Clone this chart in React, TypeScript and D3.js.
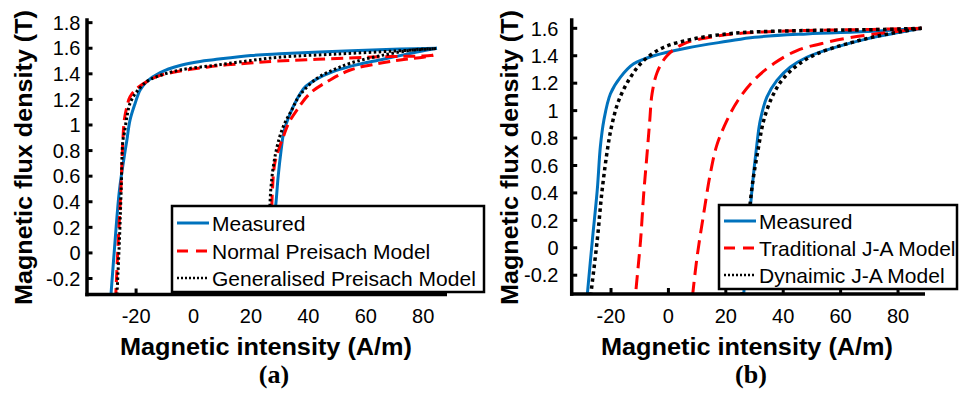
import React from "react";
import * as d3 from "d3";

type Pt = [number, number];

// ---------- Panel (a) data: [H (A/m), B (T)] ----------
const aMeasuredDown: Pt[] = [[84.8,1.6],[72,1.594],[55,1.58],[30,1.556],[20,1.543],[7,1.51],[2.3,1.497],[-4.7,1.465],[-11.6,1.41],[-16.3,1.339],[-18.6,1.274],[-20.3,1.172],[-22.1,1.04],[-23.2,0.883],[-23.8,0.8],[-25.8,0.49],[-27.3,0.1],[-28.8,-0.34]];
const aMeasuredUp: Pt[] = [[26.3,-0.34],[27.5,0.1],[28.8,0.41],[29.5,0.6],[30.5,0.8],[31.5,0.95],[33.5,1.08],[36,1.2],[39,1.3],[43,1.36],[48.6,1.417],[54.6,1.458],[66,1.514],[77.8,1.57],[84.8,1.6]];
const aNormalDown: Pt[] = [[83.5,1.545],[80,1.54],[66.2,1.534],[43,1.514],[25.5,1.495],[18.6,1.482],[11.6,1.47],[4.6,1.452],[-7,1.412],[-12.8,1.378],[-19.2,1.295],[-22.1,1.221],[-23.2,1.143],[-24.1,1.04],[-24.6,0.883],[-25.3,0.49],[-26.2,0.1],[-27.1,-0.34]];
const aNormalUp: Pt[] = [[26.5,-0.34],[27.2,0.3],[27.5,0.49],[28.3,0.7],[30,0.83],[31.3,0.909],[33.1,1.013],[36,1.117],[40.6,1.248],[47.6,1.352],[54.6,1.43],[63.8,1.478],[72,1.508],[80,1.53],[83.5,1.545]];
const aGeneralDown: Pt[] = [[84.5,1.597],[70,1.578],[50,1.555],[30,1.53],[18.6,1.5],[6.9,1.465],[-4.7,1.43],[-12.8,1.378],[-16.3,1.339],[-19.8,1.26],[-22.1,1.17],[-23.2,1.065],[-24.1,0.935],[-24.6,0.88],[-25.2,0.49],[-25.8,0.1],[-26.7,-0.34]];
const aGeneralUp: Pt[] = [[26.2,-0.34],[26.9,0.49],[28.8,0.8],[31.3,0.99],[34.2,1.117],[37.1,1.235],[43,1.365],[48.7,1.43],[54.6,1.483],[66,1.546],[77.8,1.59],[84.5,1.597]];

// ---------- Panel (b) data ----------
const bMeasuredDown: Pt[] = [[88.2,1.6],[71.4,1.578],[48.2,1.559],[30,1.535],[20.4,1.505],[6.5,1.457],[-5.1,1.4],[-12.1,1.341],[-16.7,1.244],[-20.2,1.123],[-22.5,0.929],[-23.7,0.74],[-24.8,0.42],[-26.5,0.056],[-28.3,-0.35]];
const bMeasuredUp: Pt[] = [[26.2,-0.35],[29.1,0.42],[30.8,0.75],[32,0.929],[34.3,1.098],[37.8,1.22],[42.4,1.316],[48.2,1.389],[57.5,1.457],[69.1,1.523],[80.7,1.571],[88.2,1.6]];
const bTraditionalDown: Pt[] = [[88.2,1.6],[71,1.592],[48.2,1.584],[26,1.565],[14.6,1.535],[5.3,1.487],[-0.5,1.4],[-3.9,1.28],[-5.7,1.123],[-6.5,0.929],[-7.3,0.72],[-8.6,0.396],[-9.7,0.056],[-11.1,-0.26],[-11.5,-0.35]];
const bTraditionalUp: Pt[] = [[8.4,-0.35],[10,-0.065],[12.3,0.25],[14.6,0.54],[16.9,0.75],[20.4,0.929],[24.2,1.074],[29.7,1.22],[36.6,1.341],[44.8,1.438],[55.2,1.498],[65.6,1.54],[77.2,1.571],[88.2,1.6]];
const bDynamicDown: Pt[] = [[88.2,1.6],[71.3,1.59],[48.2,1.584],[28,1.572],[20.4,1.559],[8.8,1.523],[-1.6,1.462],[-8.6,1.365],[-13.2,1.244],[-17.3,1.074],[-19.6,0.905],[-21,0.75],[-23.1,0.42],[-24.8,0.056],[-27.1,-0.35]];
const bDynamicUp: Pt[] = [[25.6,-0.35],[29,0.42],[31.4,0.735],[33.2,0.929],[36.1,1.098],[39.5,1.22],[44.8,1.329],[51.7,1.414],[62.2,1.487],[73.7,1.547],[88.2,1.6]];

// ---------- ticks & labels ----------
const xTicks = [-20, 0, 20, 40, 60, 80];
const yTicksA = [-0.2, 0, 0.2, 0.4, 0.6, 0.8, 1, 1.2, 1.4, 1.6, 1.8];
const yTicksB = [-0.2, 0, 0.2, 0.4, 0.6, 0.8, 1, 1.2, 1.4, 1.6];
const legendA = ["Measured", "Normal Preisach Model", "Generalised Preisach Model"];
const legendB = ["Measured", "Traditional J-A Model", "Dynaimic J-A Model"];
const xTitle = "Magnetic intensity (A/m)";
const yTitle = "Magnetic flux density (T)";

const BLUE = "#0072BD";
const RED = "#FF0000";
const FONT = "'Liberation Sans', Arial, Helvetica, sans-serif";

type Series = { down: Pt[]; up: Pt[]; color: string; dash?: string; width: number };

type PanelProps = {
  id: string;
  xDomain: [number, number];
  xRange: [number, number];
  yDomain: [number, number];
  yRange: [number, number];
  yTicks: number[];
  yLabelX: number;
  yTitleX: number;
  xTitleX: number;
  captionX: number;
  series: Series[];
  legend: string[];
  legendBox: { x: number; y: number; w: number; h: number };
  legendRows: number[];
  legendDash: (string | undefined)[];
  legendColors: string[];
  legendWidths: number[];
  caption: string;
};

const fmt = (v: number) => String(+v.toFixed(1));

function Panel(p: PanelProps) {
  const x = d3.scaleLinear().domain(p.xDomain).range(p.xRange);
  const y = d3.scaleLinear().domain(p.yDomain).range(p.yRange);
  const line = d3
    .line<Pt>()
    .x((d) => x(d[0]))
    .y((d) => y(d[1]))
    .curve(d3.curveCatmullRom.alpha(0.5));
  const [x0, x1] = p.xRange;
  const [yb, yt] = p.yRange;
  const lb = p.legendBox;
  return (
    <g>
      <defs>
        <clipPath id={p.id}>
          <rect x={x0} y={yt} width={x1 - x0} height={yb - yt} />
        </clipPath>
      </defs>
      <g clipPath={`url(#${p.id})`}>
        {p.series.map((s, i) => (
          <g key={i}>
            {[s.down, s.up].map((pts, j) => (
              <path
                key={j}
                d={line(pts) || ""}
                fill="none"
                stroke={s.color}
                strokeWidth={s.width}
                strokeDasharray={s.dash}
              />
            ))}
          </g>
        ))}
      </g>
      {/* y ticks */}
      {p.yTicks.map((t) => (
        <g key={t}>
          <line x1={x0} x2={x0 + 5.5} y1={y(t)} y2={y(t)} stroke="#000" strokeWidth={3} />
          <text x={p.yLabelX} y={y(t)} dy="0.36em" textAnchor="end" fontFamily={FONT} fontSize={20}>
            {fmt(t)}
          </text>
        </g>
      ))}
      {/* x ticks */}
      {xTicks.map((t) => (
        <g key={t}>
          <line x1={x(t)} x2={x(t)} y1={yb} y2={yb - 6} stroke="#000" strokeWidth={3} />
          <text x={x(t)} y={322.5} textAnchor="middle" fontFamily={FONT} fontSize={20}>
            {fmt(t)}
          </text>
        </g>
      ))}
      {/* axis lines */}
      <line x1={x0} x2={x0} y1={yt} y2={yb + 1.7} stroke="#000" strokeWidth={3.5} />
      <line x1={x0 - 1.7} x2={x1} y1={yb} y2={yb} stroke="#000" strokeWidth={3.5} />
      {/* titles */}
      <text x={p.xTitleX} y={355} textAnchor="middle" fontFamily={FONT} fontWeight="bold" fontSize={23} textLength={292} lengthAdjust="spacingAndGlyphs">
        {xTitle}
      </text>
      <text
        transform={`translate(${p.yTitleX},157.5) rotate(-90)`}
        textAnchor="middle"
        fontFamily={FONT}
        fontWeight="bold"
        fontSize={23}
        textLength={295}
        lengthAdjust="spacingAndGlyphs"
      >
        {yTitle}
      </text>
      <text x={p.captionX} y={383} textAnchor="middle" fontFamily="'Liberation Serif', 'Times New Roman', serif" fontWeight="bold" fontSize={26}>
        {p.caption}
      </text>
      {/* legend */}
      <rect x={lb.x} y={lb.y} width={lb.w} height={lb.h} fill="#fff" stroke="#000" strokeWidth={2.5} />
      {p.legend.map((name, i) => (
        <g key={name}>
          <line
            x1={lb.x + 5}
            x2={lb.x + 37}
            y1={p.legendRows[i]}
            y2={p.legendRows[i]}
            stroke={p.legendColors[i]}
            strokeWidth={p.legendWidths[i]}
            strokeDasharray={p.legendDash[i]}
          />
          <text x={lb.x + 40} y={p.legendRows[i]} dy="0.36em" fontFamily={FONT} fontSize={21}>
            {name}
          </text>
        </g>
      ))}
    </g>
  );
}

export default function App() {
  return (
    <svg width={961} height={393} style={{ position: "absolute", left: 0, top: 0, background: "#fff" }}>
      <rect width={961} height={393} fill="#fff" />
      <Panel
        id="clipA"
        xDomain={[-37.1, 88.3]}
        xRange={[87, 447]}
        yDomain={[-0.325, 1.834]}
        yRange={[294.5, 18.3]}
        yTicks={yTicksA}
        yLabelX={80.5}
        yTitleX={32}
        xTitleX={266}
        captionX={274}
        series={[
          { down: aMeasuredDown, up: aMeasuredUp, color: BLUE, width: 3 },
          { down: aNormalDown, up: aNormalUp, color: RED, dash: "12,6", width: 3 },
          { down: aGeneralDown, up: aGeneralUp, color: "#000", dash: "2.5,2.5", width: 3 },
        ]}
        legend={legendA}
        legendBox={{ x: 172, y: 206, w: 312, h: 86 }}
        legendRows={[223, 251, 278]}
        legendDash={[undefined, "11,8", "2,2"]}
        legendColors={[BLUE, RED, "#000"]}
        legendWidths={[3, 3, 2.5]}
        caption="(a)"
      />
      <Panel
        id="clipB"
        xDomain={[-33.7, 89.4]}
        xRange={[571.7, 925]}
        yDomain={[-0.337, 1.673]}
        yRange={[294, 18.3]}
        yTicks={yTicksB}
        yLabelX={558.5}
        yTitleX={518}
        xTitleX={747}
        captionX={751}
        series={[
          { down: bMeasuredDown, up: bMeasuredUp, color: BLUE, width: 3 },
          { down: bTraditionalDown, up: bTraditionalUp, color: RED, dash: "14,7", width: 3 },
          { down: bDynamicDown, up: bDynamicUp, color: "#000", dash: "3.5,3.5", width: 3.5 },
        ]}
        legend={legendB}
        legendBox={{ x: 719, y: 205, w: 238, h: 84 }}
        legendRows={[221, 248, 275]}
        legendDash={[undefined, "11,8", "2,2"]}
        legendColors={[BLUE, RED, "#000"]}
        legendWidths={[3, 3, 2.5]}
        caption="(b)"
      />
    </svg>
  );
}
